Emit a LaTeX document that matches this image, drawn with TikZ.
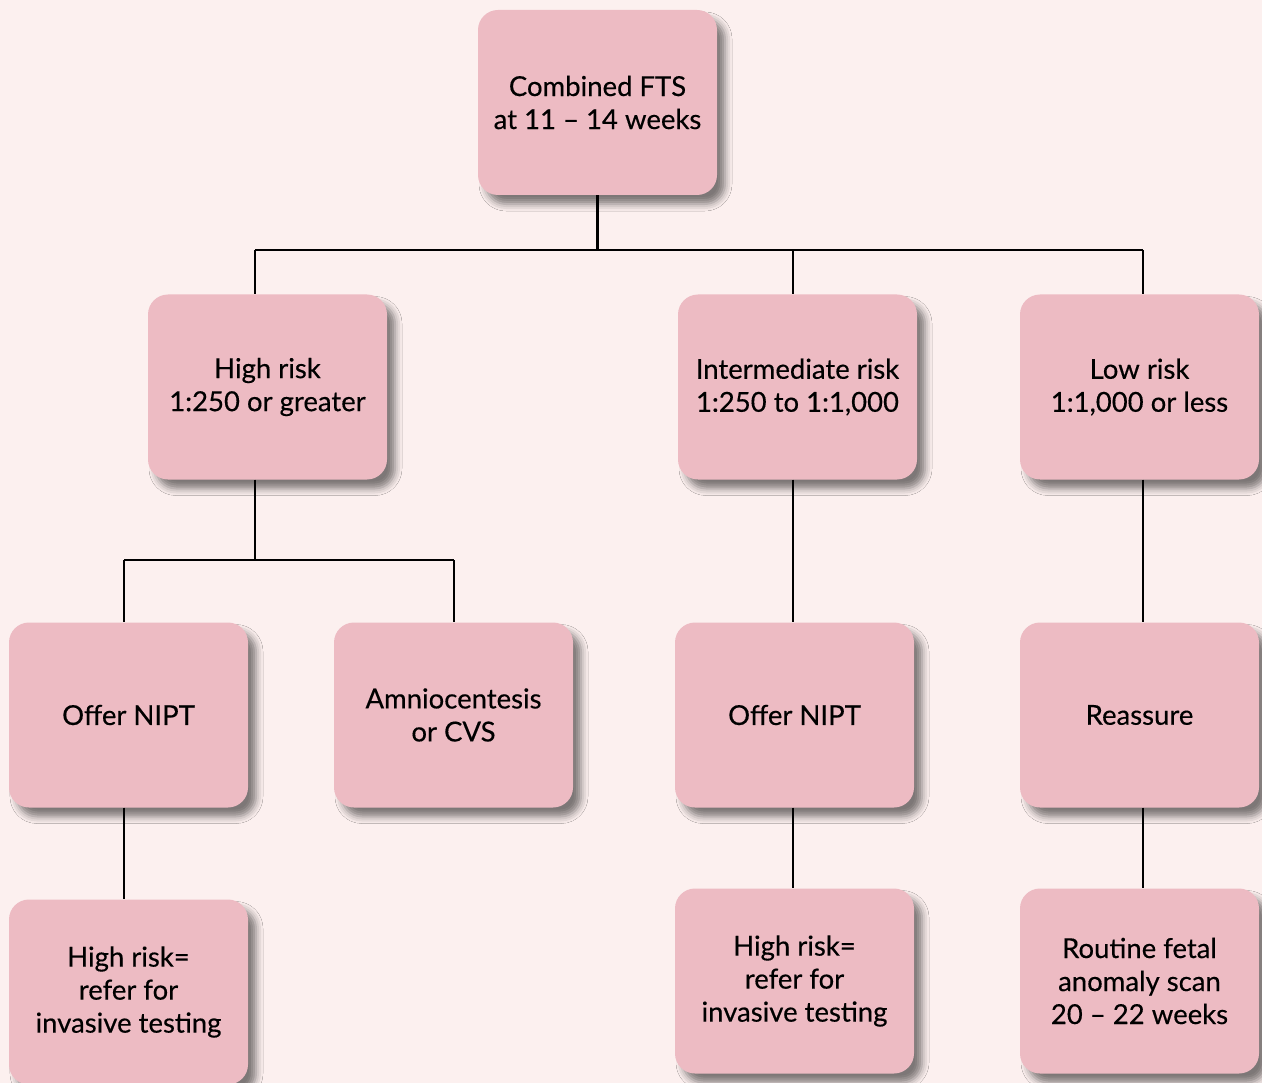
\documentclass[tikz,border=0pt]{standalone}
\usepackage{fontspec}
\setmainfont{Lato}
\newfontfamily\boxfont{Lato}[FakeBold=0.35,Ligatures=TeX]
\usetikzlibrary{shadows.blur}
\definecolor{bgc}{HTML}{FCF0EF}
\definecolor{boxc}{HTML}{EDBBC3}
\tikzset{
  stepbox/.style={rectangle, rounded corners=20pt, fill=boxc, draw=none,
    minimum width=239pt, minimum height=185pt, align=center, inner sep=4pt,
    font=\boxfont\fontsize{27.5}{33}\selectfont,
    blur shadow={shadow xshift=8pt, shadow yshift=-9pt, shadow blur radius=7pt, shadow opacity=50}},
  conn/.style={draw=black, line width=2.5pt}
}
\begin{document}
\begin{tikzpicture}[x=1pt,y=-1pt]
\fill[bgc] (0,0) rectangle (1262,1083);
\useasboundingbox (0,0) rectangle (1262,1083);
\node[stepbox] (top) at (597.5,102.5) {Combined FTS\\at 11 – 14 weeks};
\node[stepbox] (hr) at (267.5,387) {High risk\\1:250 or greater};
\node[stepbox] (ir) at (797.5,387) {Intermediate risk\\1:250 to 1:1,000};
\node[stepbox] (lr) at (1139.5,387) {Low risk\\1:1,000 or less};
\node[stepbox] (on1) at (128.5,715) {Offer NIPT};
\node[stepbox] (am) at (453.5,715) {Amniocentesis\\or CVS};
\node[stepbox] (on2) at (794.5,715) {Offer NIPT};
\node[stepbox] (re) at (1139.5,715) {Reassure};
\node[stepbox] (hr1) at (128.5,992) {High risk=\\refer for\\invasive testing};
\node[stepbox] (hr2) at (794.5,981) {High risk=\\refer for\\invasive testing};
\node[stepbox] (rf) at (1139.5,981) {Routine fetal\\anomaly scan\\20 – 22 weeks};
\coordinate (j0) at (597.5,250);
\coordinate (jL) at (255,250);
\coordinate (jM) at (793,250);
\coordinate (jR) at (1143,250);
\coordinate (k0) at (255,560);
\coordinate (kL) at (124,560);
\coordinate (kR) at (454,560);
\draw[conn] (top.south) -- (j0);
\draw[conn] (jL) -- (jR);
\draw[conn] (jL) -- (jL |- hr.north);
\draw[conn] (jM) -- (jM |- ir.north);
\draw[conn] (jR) -- (jR |- lr.north);
\draw[conn] (hr.south -| k0) -- (k0);
\draw[conn] (kL) -- (kR);
\draw[conn] (kL) -- (kL |- on1.north);
\draw[conn] (kR) -- (kR |- am.north);
\draw[conn] (ir.south -| jM) -- (jM |- on2.north);
\draw[conn] (on2.south -| jM) -- (jM |- hr2.north);
\draw[conn] (lr.south -| jR) -- (jR |- re.north);
\draw[conn] (re.south -| jR) -- (jR |- rf.north);
\draw[conn] (on1.south -| kL) -- (kL |- hr1.north);
\end{tikzpicture}
\end{document}
